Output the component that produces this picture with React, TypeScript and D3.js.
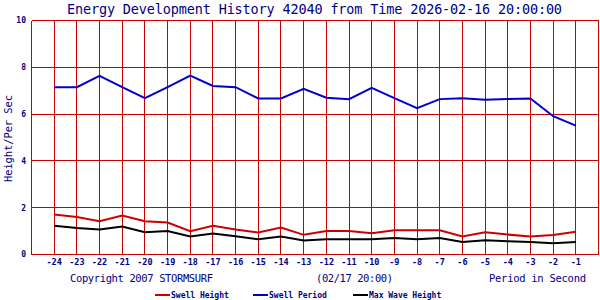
import React from "react";
import * as d3 from "d3";

const hours = [-24,-23,-22,-21,-20,-19,-18,-17,-16,-15,-14,-13,-12,-11,-10,-9,-8,-7,-6,-5,-4,-3,-2,-1];
const swellHeight = [1.71,1.6,1.42,1.67,1.42,1.37,1.0,1.23,1.07,0.94,1.15,0.84,1.0,1.0,0.91,1.04,1.04,1.04,0.77,0.95,0.85,0.77,0.83,0.97];
const swellPeriod = [7.15,7.15,7.63,7.15,6.68,7.15,7.65,7.2,7.15,6.67,6.67,7.08,6.7,6.64,7.12,6.68,6.25,6.64,6.68,6.61,6.64,6.67,5.91,5.51];
const maxWave = [1.23,1.13,1.07,1.2,0.95,1.0,0.77,0.9,0.78,0.65,0.77,0.6,0.65,0.65,0.65,0.7,0.65,0.7,0.53,0.61,0.57,0.53,0.48,0.53];
const yTicks = [0,2,4,6,8,10];
const title = "Energy Development History 42040 from Time 2026-02-16 20:00:00";
const legendItems = [
  { name: "Swell Height", color: "#cc0000" },
  { name: "Swell Period", color: "#0000cc" },
  { name: "Max Wave Height", color: "#000000" },
];

const FONT = "'DejaVu Sans Mono', monospace";
const NAVY = "#000080";
const GRID = "#cc0000";

export default function App() {
  const x = d3.scaleLinear().domain([-25, 0]).range([31.5, 598.5]);
  const y = d3.scaleLinear().domain([0, 10]).range([254.5, 20.5]);
  const vLines = d3.range(-25, 1);
  const line = d3.line<number>().x((_, i) => x(hours[i])).y((d) => y(d));
  const series = [
    { values: swellHeight, color: "#cc0000" },
    { values: swellPeriod, color: "#0000cc" },
    { values: maxWave, color: "#000000" },
  ];
  const legendX = [155, 253, 353];
  return (
    <svg width={600} height={300} style={{ position: "absolute", left: 0, top: 0, background: "#fff" }}>
      <rect x={0} y={0} width={600} height={300} fill="#fff" />
      <text x={67} y={13.5} fontFamily={FONT} fontSize={13.5} fill={NAVY} textLength={495} lengthAdjust="spacing">{title}</text>
      {yTicks.map((t) => (
        <line key={"h" + t} x1={x(-25)} x2={x(0)} y1={y(t)} y2={y(t)} stroke={GRID} strokeWidth={1} shapeRendering="crispEdges" />
      ))}
      {vLines.map((v) => (
        <line key={"v" + v} x1={x(v)} x2={x(v)} y1={y(10)} y2={y(0)} stroke={GRID} strokeWidth={1} shapeRendering="crispEdges" />
      ))}
      {yTicks.map((t) => (
        <text key={"yt" + t} x={26} y={y(t)} dy="0.35em" textAnchor="end" fontFamily={FONT} fontSize={8} fontWeight="bold" fill={NAVY}>{t}</text>
      ))}
      {hours.map((h) => (
        <text key={"xt" + h} x={x(h)} y={265} textAnchor="middle" fontFamily={FONT} fontSize={8.5} fontWeight="bold" fill={NAVY}>{h}</text>
      ))}
      <text transform="translate(12,138.5) rotate(-90)" textAnchor="middle" fontFamily={FONT} fontSize={10.5} fill={NAVY} textLength={87} lengthAdjust="spacing">Height/Per Sec</text>
      {series.map((s, i) => (
        <path key={"s" + i} d={line(s.values) || ""} fill="none" stroke={s.color} strokeWidth={2} />
      ))}
      <text x={70} y={282} fontFamily={FONT} fontSize={10.5} fill={NAVY} textLength={143} lengthAdjust="spacing">Copyright 2007 STORMSURF</text>
      <text x={316} y={282} fontFamily={FONT} fontSize={10.5} fill={NAVY} textLength={77} lengthAdjust="spacing">(02/17 20:00)</text>
      <text x={489} y={282} fontFamily={FONT} fontSize={10.5} fill={NAVY} textLength={97} lengthAdjust="spacing">Period in Second</text>
      {legendItems.map((it, i) => (
        <g key={"lg" + i}>
          <line x1={legendX[i]} x2={legendX[i] + 15} y1={295} y2={295} stroke={it.color} strokeWidth={2} />
          <text x={legendX[i] + 16} y={298} fontFamily={FONT} fontSize={8} fontWeight="bold" fill={NAVY}>{it.name}</text>
        </g>
      ))}
    </svg>
  );
}
